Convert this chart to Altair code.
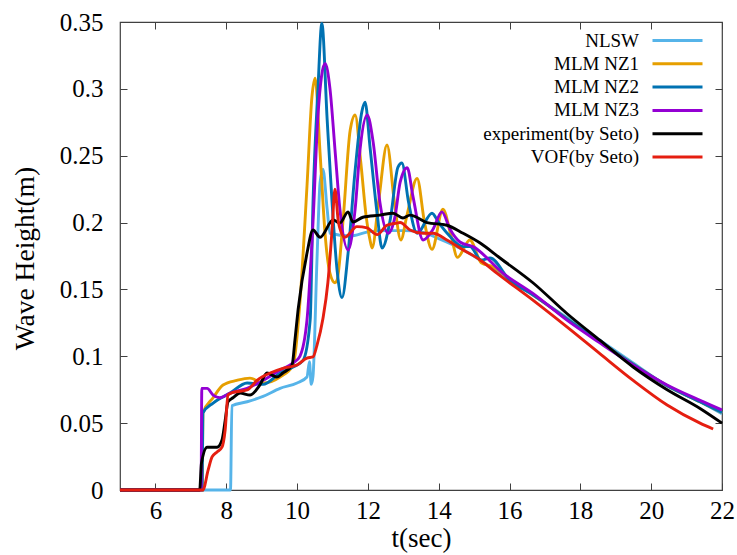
import altair as alt
import pandas as pd

series_names = ["NLSW", "MLM NZ1", "MLM NZ2", "MLM NZ3", "experiment(by Seto)", "VOF(by Seto)"]
series_colors = ["#56B4E9", "#E69F00", "#0072B2", "#9400D3", "#000000", "#E51E10"]

nlsw_t = [5.0, 8.12, 8.16, 8.59, 9.04, 9.52, 10.0, 10.28, 10.35, 10.40, 10.45, 10.56, 10.65, 10.73, 10.85,
          10.93, 11.5, 12.0, 12.5, 13.0, 13.5, 14.0, 14.7, 15.73, 16.7, 17.62, 18.55, 19.49, 20.45, 21.38, 22.0]
nlsw_h = [0.0, 0.0, 0.063, 0.066, 0.070, 0.076, 0.080, 0.0845, 0.096, 0.079, 0.085, 0.17, 0.23, 0.24, 0.21,
          0.192, 0.19, 0.193, 0.194, 0.194, 0.193, 0.188, 0.1795, 0.162, 0.145, 0.129, 0.112, 0.095, 0.078, 0.066, 0.057]

nz1_t = [5.0, 7.32, 7.34, 7.63, 7.91, 8.30, 8.67, 9.04, 9.52, 9.89, 10.08, 10.28, 10.42, 10.51, 10.65, 10.79,
         10.93, 11.07, 11.13, 11.30, 11.50, 11.64, 11.80, 11.95, 12.06, 12.12, 12.30, 12.54, 12.75, 12.93, 13.10,
         13.39, 13.60, 13.81, 14.12, 14.35, 14.53, 14.88, 15.20, 15.53, 16.0, 16.66, 17.62, 18.55, 19.49, 20.45,
         21.38, 22.0]
nz1_h = [0.0, 0.0, 0.0576, 0.069, 0.0785, 0.082, 0.0837, 0.080, 0.0845, 0.0935, 0.14, 0.227, 0.294, 0.308, 0.252,
         0.192, 0.162, 0.155, 0.157, 0.202, 0.269, 0.2805, 0.245, 0.205, 0.187, 0.181, 0.215, 0.258, 0.215, 0.187,
         0.205, 0.233, 0.20, 0.18, 0.21, 0.19, 0.174, 0.187, 0.17, 0.167, 0.158, 0.146, 0.128, 0.111, 0.094, 0.078,
         0.066, 0.058]

nz2_t = [5.0, 7.32, 7.34, 7.63, 8.11, 8.59, 9.04, 9.52, 9.89, 10.17, 10.37, 10.45, 10.59, 10.70, 10.85, 10.99,
         11.13, 11.27, 11.44, 11.64, 11.83, 11.92, 12.06, 12.26, 12.40, 12.63, 12.85, 12.96, 13.15, 13.39, 13.81,
         14.0, 14.24, 14.69, 14.88, 15.2, 15.45, 16.0, 16.66, 17.62, 18.55, 19.49, 20.45, 21.38, 22.0]
nz2_h = [0.0, 0.0, 0.0576, 0.065, 0.0725, 0.080, 0.079, 0.0875, 0.092, 0.097, 0.127, 0.2145, 0.30, 0.349, 0.277,
         0.2145, 0.1645, 0.144, 0.177, 0.239, 0.283, 0.29, 0.2565, 0.207, 0.181, 0.202, 0.2415, 0.2445, 0.215,
         0.192, 0.207, 0.20, 0.192, 0.182, 0.182, 0.172, 0.1735, 0.157, 0.146, 0.128, 0.111, 0.094, 0.078, 0.066,
         0.058]

nz3_t = [5.0, 7.29, 7.31, 7.46, 7.63, 7.82, 8.11, 8.59, 9.04, 9.52, 9.89, 10.08, 10.28, 10.45, 10.59, 10.79,
         10.93, 11.07, 11.21, 11.44, 11.64, 11.78, 11.98, 12.15, 12.34, 12.57, 12.77, 12.91, 13.11, 13.27, 13.56,
         13.84, 14.09, 14.32, 14.6, 14.97, 15.82, 16.66, 17.62, 18.55, 19.49, 20.45, 21.38, 22.0]
nz3_h = [0.0, 0.0, 0.076, 0.076, 0.071, 0.069, 0.0725, 0.076, 0.082, 0.0897, 0.095, 0.10, 0.127, 0.20, 0.28,
         0.319, 0.30, 0.255, 0.21, 0.1795, 0.21, 0.255, 0.2805, 0.26, 0.215, 0.192, 0.205, 0.23, 0.241, 0.22,
         0.187, 0.195, 0.208, 0.195, 0.1855, 0.182, 0.162, 0.147, 0.127, 0.110, 0.0935, 0.0785, 0.067, 0.0598]

exp_t = [5.0, 7.25, 7.30, 7.46, 7.74, 7.88, 7.97, 8.05, 8.19, 8.39, 8.67, 8.95, 9.15, 9.43, 9.60, 9.86, 9.94,
         10.03, 10.28, 10.45, 10.65, 11.02, 11.21, 11.44, 11.58, 11.86, 12.34, 12.71, 12.99, 13.19, 13.67, 14.23,
         14.69, 15.17, 15.73, 16.66, 17.62, 18.55, 19.49, 20.45, 21.38, 22.0]
exp_h = [0.0, 0.0, 0.02, 0.032, 0.032, 0.0374, 0.052, 0.066, 0.069, 0.0725, 0.071, 0.0785, 0.0875, 0.0845, 0.0875,
         0.0935, 0.112, 0.135, 0.177, 0.1945, 0.189, 0.202, 0.1996, 0.208, 0.2004, 0.204, 0.2056, 0.207, 0.2034,
         0.2056, 0.20, 0.198, 0.192, 0.1847, 0.1735, 0.155, 0.132, 0.112, 0.092, 0.075, 0.061, 0.050]

vof_t = [5.0, 7.34, 7.49, 7.60, 7.74, 7.88, 7.97, 8.05, 8.19, 8.59, 8.87, 9.24, 9.60, 10.0, 10.28, 10.45, 10.56,
         10.73, 10.87, 10.99, 11.07, 11.17, 11.35, 11.69, 11.98, 12.26, 12.54, 12.82, 12.91, 13.19, 13.56, 13.84,
         14.23, 14.69, 15.17, 15.65, 16.66, 17.62, 18.55, 19.49, 20.45, 21.38, 21.75]
vof_h = [0.0, 0.0, 0.015, 0.0247, 0.0284, 0.032, 0.045, 0.071, 0.073, 0.0748, 0.082, 0.0875, 0.091, 0.0935, 0.0987,
         0.0995, 0.108, 0.128, 0.155, 0.195, 0.225, 0.20, 0.189, 0.197, 0.196, 0.191, 0.198, 0.1996, 0.20, 0.1945,
         0.192, 0.192, 0.187, 0.1795, 0.172, 0.162, 0.142, 0.122, 0.102, 0.082, 0.0636, 0.050, 0.0456]

x_ticks = [6, 8, 10, 12, 14, 16, 18, 20, 22]
y_ticks = [0, 0.05, 0.1, 0.15, 0.2, 0.25, 0.3, 0.35]

all_t = [nlsw_t, nz1_t, nz2_t, nz3_t, exp_t, vof_t]
all_h = [nlsw_h, nz1_h, nz2_h, nz3_h, exp_h, vof_h]
rows = []
for i, (name, ts, hs) in enumerate(zip(series_names, all_t, all_h)):
    for j, (t, h) in enumerate(zip(ts, hs)):
        rows.append({"series": name, "t": t, "h": h, "k": i, "j": j})
df = pd.DataFrame(rows)

FONT = "Liberation Serif"
W, H = 602, 468
xs = alt.Scale(domain=[5, 22], nice=False, zero=False)
ys = alt.Scale(domain=[0, 0.35], nice=False, zero=False)
TICK = "#404040"

lines = alt.Chart(df).mark_line(strokeWidth=2.9, interpolate="monotone").encode(
    x=alt.X("t:Q", scale=xs, axis=alt.Axis(
        values=x_ticks, format="d", ticks=False, domain=False, grid=False,
        labelFont=FONT, labelFontSize=25, labelColor="black", labelPadding=8, labelFlush=False,
        title="t(sec)", titleFont=FONT, titleFontSize=27, titleFontWeight="normal",
        titleColor="black", titlePadding=2)),
    y=alt.Y("h:Q", scale=ys, axis=alt.Axis(
        values=y_ticks, format=".2~f", ticks=False, domain=False, grid=False,
        labelFont=FONT, labelFontSize=25, labelColor="black", labelPadding=17, labelFlush=False,
        title="Wave Height(m)", titleFont=FONT, titleFontSize=27.5, titleFontWeight="normal",
        titleColor="black", titlePadding=20, titleY=236)),
    color=alt.Color("series:N", scale=alt.Scale(domain=series_names, range=series_colors),
                    legend=alt.Legend(
                        orient="none", legendX=348, legendY=9, title=None, padding=0,
                        labelFont=FONT, labelFontSize=19, labelColor="black",
                        labelAlign="right", labelOffset=alt.ExprRef(expr="-48"), labelLimit=400,
                        symbolType="M-10,0H10", symbolSize=25, symbolStrokeWidth=3,
                        symbolOffset=200, rowPadding=3.3)),
    order=alt.Order("j:Q"),
    detail="k:N",
)

def tick_layer(x_orient, y_orient):
    return alt.Chart(df).mark_line(opacity=0).encode(
        x=alt.X("t:Q", scale=xs, axis=alt.Axis(
            orient=x_orient, offset=-H, values=x_ticks, labels=False, ticks=True, tickSize=7,
            tickColor=TICK, tickWidth=1, domain=False, grid=False, title=None)),
        y=alt.Y("h:Q", scale=ys, axis=alt.Axis(
            orient=y_orient, offset=-W, values=y_ticks, labels=False, ticks=True, tickSize=7,
            tickColor=TICK, tickWidth=1, domain=False, grid=False, title=None)),
        detail="k:N",
    )

chart = alt.layer(
    lines,
    tick_layer("top", "right"),
    tick_layer("bottom", "left"),
).resolve_axis(x="independent", y="independent").properties(
    width=W, height=H,
    autosize=alt.AutoSizeParams(type="none"),
    padding={"left": 120, "top": 22, "right": 15, "bottom": 65},
).configure_view(stroke=TICK, strokeWidth=1.2)

chart.save("out.html", embed_options={"renderer": "svg", "actions": False})
